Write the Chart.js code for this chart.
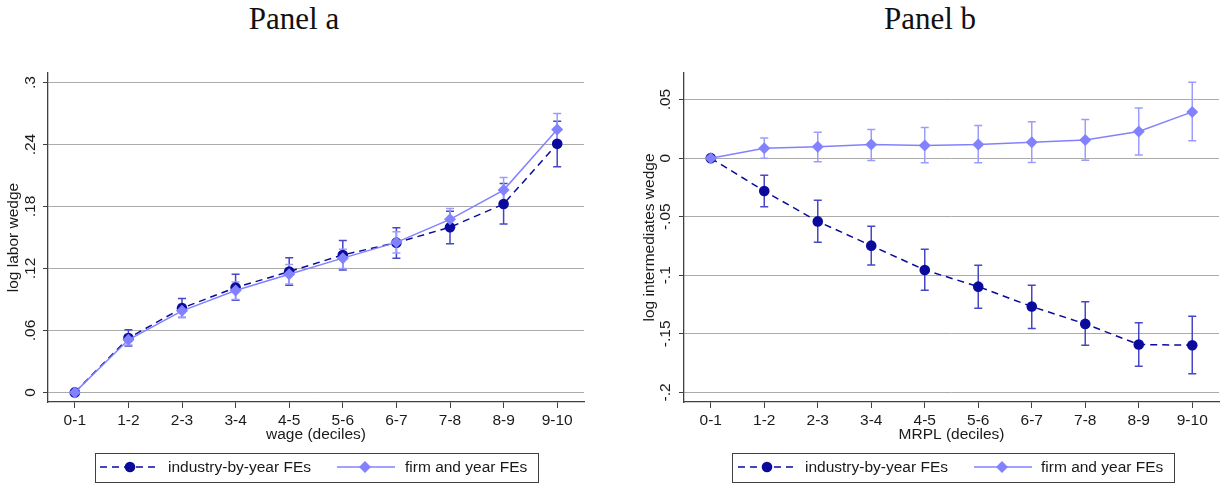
<!DOCTYPE html>
<html>
<head>
<meta charset="utf-8">
<script src="https://cdn.jsdelivr.net/npm/chart.js@4/dist/chart.umd.min.js"></script>
<style>
  html, body { margin: 0; padding: 0; background: #fff; }
  #wrap { position: relative; width: 1225px; height: 485px; overflow: hidden; }
  canvas { position: absolute; top: 0; }
  .ptitle { position: absolute; top: 3px; width: 300px; text-align: center;
            font-family: "Liberation Serif", "DejaVu Serif", serif; font-size: 31px;
            line-height: 31px; color: #111; }
</style>
</head>
<body>
<div id="wrap">
  <div class="ptitle" style="left:144px">Panel a</div>
  <div class="ptitle" style="left:780px">Panel b</div>
  <canvas id="ca" width="612" height="485" style="left:0px"></canvas>
  <canvas id="cb" width="613" height="485" style="left:612px"></canvas>
</div>
<script>
// ---------------- DATA ----------------
const categories = ['0-1','1-2','2-3','3-4','4-5','5-6','6-7','7-8','8-9','9-10'];
const seriesNames = ['industry-by-year FEs', 'firm and year FEs'];

// Panel a: log labor wedge by wage decile
const industryA    = [0, 0.0526, 0.0816, 0.1015, 0.1170, 0.1331, 0.1450, 0.1599, 0.1824, 0.2407];
const industryA_lo = [0, 0.0450, 0.0725, 0.0893, 0.1038, 0.1186, 0.1300, 0.1440, 0.1630, 0.2184];
const industryA_hi = [0, 0.0606, 0.0909, 0.1144, 0.1305, 0.1470, 0.1595, 0.1754, 0.2022, 0.2626];
const firmA        = [0, 0.0509, 0.0790, 0.0986, 0.1144, 0.1300, 0.1453, 0.1676, 0.1959, 0.2545];
const firmA_lo     = [0, 0.0460, 0.0728, 0.0900, 0.1050, 0.1200, 0.1350, 0.1570, 0.1836, 0.2390];
const firmA_hi     = [0, 0.0560, 0.0852, 0.1070, 0.1238, 0.1386, 0.1556, 0.1782, 0.2082, 0.2700];

// Panel b: log intermediates wedge by MRPL decile
const industryB    = [0, -0.0281, -0.0540, -0.0747, -0.0955, -0.1097, -0.1267, -0.1415, -0.1591, -0.1597];
const industryB_lo = [0, -0.0415, -0.0719, -0.0912, -0.1128, -0.1281, -0.1455, -0.1597, -0.1776, -0.1841];
const industryB_hi = [0, -0.0145, -0.0360, -0.0582, -0.0778, -0.0915, -0.1085, -0.1227, -0.1406, -0.1349];
const firmB        = [0, 0.0085, 0.0097, 0.0116, 0.0108, 0.0116, 0.0136, 0.0156, 0.0227, 0.0395];
const firmB_lo     = [0, 0.0000, -0.0031, -0.0020, -0.0040, -0.0040, -0.0037, -0.0017, 0.0026, 0.0148];
const firmB_hi     = [0, 0.0173, 0.0222, 0.0244, 0.0261, 0.0278, 0.0310, 0.0330, 0.0429, 0.0648];

// Axis ticks and ranges
const yTicksA = [0, 0.06, 0.12, 0.18, 0.24, 0.3];
const yTicksB = [-0.2, -0.15, -0.1, -0.05, 0, 0.05];
const yRangeA = [-0.0093, 0.3093];
const yRangeB = [-0.2082, 0.0727];
const yTitleA = 'log labor wedge';
const yTitleB = 'log intermediates wedge';
const xTitleA = 'wage (deciles)';
const xTitleB = 'MRPL (deciles)';

// ---------------- STYLE ----------------
const DARK = '#0a0a9c';
const DARK_ERR = '#4646c6';
const LIGHT = '#8282ff';
const LIGHT_ERR = '#9c9cff';
const AXIS = '#404040';
const GRID = '#ababab';
const TXT = '#1a1a1a';
const FONT = '"Liberation Sans", Arial, sans-serif';
const FS = 15.5;

function fmt(v) {
  if (Math.abs(v) < 1e-9) return '0';
  const s = String(+v.toFixed(3));
  return s.replace(/^(-?)0\./, '$1.');
}

const errorBarPlugin = {
  id: 'errbars',
  beforeDatasetsDraw(chart) {
    const eb = chart.options.plugins.errbars;
    const ctx = chart.ctx;
    const xs = chart.scales.x, ys = chart.scales.y;
    ctx.save();
    eb.sets.forEach(s => {
      ctx.strokeStyle = s.color;
      ctx.lineWidth = 1.5;
      ctx.setLineDash([]);
      s.lo.forEach((lo, i) => {
        const hi = s.hi[i];
        if (lo === hi) return;
        const x = xs.getPixelForValue(i);
        const y1 = ys.getPixelForValue(lo), y2 = ys.getPixelForValue(hi);
        ctx.beginPath();
        ctx.moveTo(x, y1); ctx.lineTo(x, y2);
        ctx.moveTo(x - 4, y1); ctx.lineTo(x + 4, y1);
        ctx.moveTo(x - 4, y2); ctx.lineTo(x + 4, y2);
        ctx.stroke();
      });
    });
    ctx.restore();
  }
};

function drawLegend(chart, L, dsList) {
  const ctx = chart.ctx;
  ctx.save();
  ctx.strokeStyle = AXIS;
  ctx.lineWidth = 1;
  ctx.setLineDash([]);
  ctx.strokeRect(L.box[0] + 0.5, L.box[1] + 0.5, L.box[2] - L.box[0], L.box[3] - L.box[1]);
  const cy = L.cy;
  L.items.forEach((it, k) => {
    const ds = dsList[k];
    ctx.strokeStyle = ds.borderColor;
    ctx.lineWidth = 1.5;
    ctx.setLineDash(ds.borderDash || []);
    ctx.beginPath();
    ctx.moveTo(it.s0, cy); ctx.lineTo(it.s1, cy);
    ctx.stroke();
    ctx.setLineDash([]);
    ctx.fillStyle = ds.pointBackgroundColor;
    ctx.beginPath();
    if (ds.pointStyle === 'rectRot') {
      const r = 6;
      ctx.moveTo(it.m, cy - r); ctx.lineTo(it.m + r, cy); ctx.lineTo(it.m, cy + r); ctx.lineTo(it.m - r, cy);
      ctx.closePath();
    } else {
      ctx.arc(it.m, cy, 5.3, 0, Math.PI * 2);
    }
    ctx.fill();
    ctx.fillStyle = TXT;
    ctx.font = FS + 'px ' + FONT;
    ctx.textBaseline = 'middle';
    ctx.textAlign = 'left';
    ctx.fillText(ds.label, it.t, cy + 1);
  });
  ctx.restore();
}

function makeChart(id, cfg) {
  const ds = [
    { label: seriesNames[1], data: cfg.firm, borderColor: LIGHT, backgroundColor: LIGHT,
      pointBackgroundColor: LIGHT, pointBorderColor: LIGHT, pointStyle: 'rectRot',
      pointRadius: 6, pointBorderWidth: 0, borderWidth: 1.5, tension: 0, order: 0 },
    { label: seriesNames[0], data: cfg.ind, borderColor: DARK, backgroundColor: DARK,
      pointBackgroundColor: DARK, pointBorderColor: DARK, pointStyle: 'circle',
      pointRadius: 5.3, pointBorderWidth: 0, borderWidth: 1.5, borderDash: [7, 5], tension: 0, order: 1 }
  ];
  const legendDatasets = [ds[1], ds[0]];
  return new Chart(document.getElementById(id), {
    type: 'line',
    data: { labels: categories, datasets: ds },
    options: {
      responsive: false,
      animation: false,
      devicePixelRatio: 1,
      layout: { padding: { top: 73, bottom: 39, left: 0, right: cfg.padRight } },
      plugins: {
        legend: { display: false },
        tooltip: { enabled: false },
        errbars: { sets: [
          { color: DARK_ERR, lo: cfg.indLo, hi: cfg.indHi },
          { color: LIGHT_ERR, lo: cfg.firmLo, hi: cfg.firmHi }
        ] }
      },
      scales: {
        x: {
          type: 'category',
          offset: true,
          grid: { display: true, drawOnChartArea: false, drawTicks: true, tickLength: 6,
                  tickColor: AXIS, tickWidth: 1, offset: false },
          border: { display: true, color: AXIS, width: 1.3 },
          ticks: { color: TXT, font: { family: FONT, size: FS }, padding: 3,
                   maxRotation: 0, minRotation: 0, autoSkip: false },
          title: { display: true, text: cfg.xTitle, color: TXT,
                   font: { family: FONT, size: FS }, padding: { top: 0, bottom: 2 } },
          afterFit(s) { s.height = 44; }
        },
        y: {
          type: 'linear',
          min: cfg.yRange[0], max: cfg.yRange[1],
          afterBuildTicks(s) { s.ticks = cfg.yTicks.map(v => ({ value: v })); },
          grid: { display: true, color: GRID, lineWidth: 1, drawTicks: true, tickLength: 5,
                  tickColor: AXIS, tickWidth: 1 },
          border: { display: true, color: AXIS, width: 1.3 },
          ticks: { color: TXT, font: { family: FONT, size: FS }, padding: cfg.yTickPad,
                   minRotation: 90, maxRotation: 90, crossAlign: 'center',
                   callback: (v) => fmt(v) },
          title: { display: true, text: cfg.yTitle, color: TXT,
                   font: { family: FONT, size: FS }, padding: { top: cfg.yTitlePad, bottom: 0 } },
          afterFit(s) { s.width = cfg.yWidth; }
        }
      }
    },
    plugins: [errorBarPlugin, {
      id: 'boxlegend',
      afterDraw(chart) { drawLegend(chart, cfg.legend, legendDatasets); }
    }]
  });
}

makeChart('ca', {
  ind: industryA, indLo: industryA_lo, indHi: industryA_hi,
  firm: firmA, firmLo: firmA_lo, firmHi: firmA_hi,
  yTicks: yTicksA, yRange: yRangeA, yTitle: yTitleA, xTitle: xTitleA,
  yWidth: 48, yTitlePad: 4, yTickPad: 2, padRight: 28,
  legend: { box: [95, 453, 538, 482], cy: 467,
    items: [ { s0: 100, s1: 160, m: 130, t: 168 }, { s0: 337, s1: 395, m: 365, t: 405 } ] }
});

makeChart('cb', {
  ind: industryB, indLo: industryB_lo, indHi: industryB_hi,
  firm: firmB, firmLo: firmB_lo, firmHi: firmB_hi,
  yTicks: yTicksB, yRange: yRangeB, yTitle: yTitleB, xTitle: xTitleB,
  yWidth: 72, yTitlePad: 28.5, yTickPad: 0, padRight: 4,
  legend: { box: [120, 453, 562, 482], cy: 467,
    items: [ { s0: 126, s1: 184, m: 155, t: 193 }, { s0: 362, s1: 420, m: 390, t: 429 } ] }
});
</script>
</body>
</html>
